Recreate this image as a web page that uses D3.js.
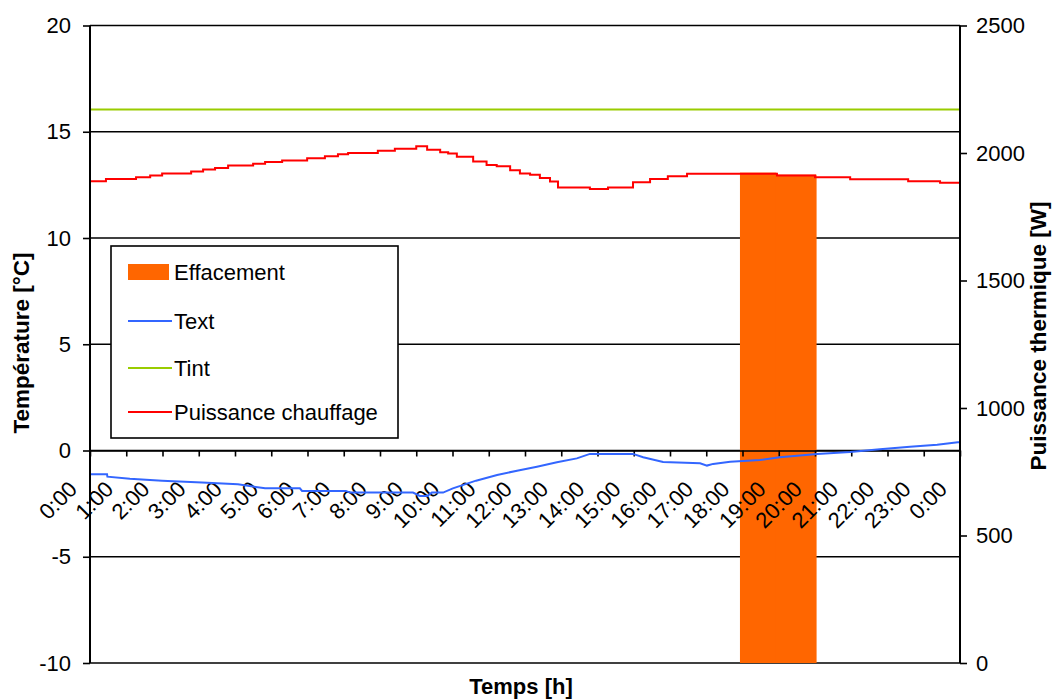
<!DOCTYPE html>
<html>
<head>
<meta charset="utf-8">
<script src="https://cdn.jsdelivr.net/npm/d3@7"></script>
<style>
  html, body { margin: 0; padding: 0; background: #fff; }
  svg { display: block; font-family: "Liberation Sans", Arial, sans-serif; }
</style>
</head>
<body>
<svg id="chart" width="1053" height="700"></svg>
<script>
// ---------- DATA ----------
const hourLabels = ["0:00","1:00","2:00","3:00","4:00","5:00","6:00","7:00","8:00","9:00","10:00","11:00","12:00",
  "13:00","14:00","15:00","16:00","17:00","18:00","19:00","20:00","21:00","22:00","23:00","0:00"];
const leftTicks = [-10, -5, 0, 5, 10, 15, 20];
const rightTicks = [0, 500, 1000, 1500, 2000, 2500];

// Text (outdoor temperature, °C) – hour, value
const textHours  = [0, 0.47, 0.48, 1.10, 1.99, 3.09, 4.08, 4.83, 5.79, 5.85, 7.06, 7.17, 8.91, 9.10, 9.30, 9.43, 9.74,
  10.01, 10.65, 11.23, 11.78, 12.33, 12.88, 13.43, 13.79, 14.98, 15.26, 15.81, 16.83, 17.02, 17.19, 17.66, 18.48,
  19.03, 20.06, 20.97, 21.79, 22.62, 23.37, 23.94, 24];
const textValues = [-1.12, -1.12, -1.23, -1.33, -1.42, -1.51, -1.59, -1.78, -1.78, -1.90, -1.90, -1.98, -1.98, -2.14, -2.14, -1.98, -1.98,
  -1.78, -1.42, -1.15, -0.95, -0.76, -0.55, -0.37, -0.16, -0.16, -0.32, -0.54, -0.60, -0.71, -0.63, -0.53, -0.45,
  -0.32, -0.16, -0.07, 0.06, 0.18, 0.27, 0.39, 0.39];

// Tint (indoor temperature, °C)
const tintHours  = [0, 24];
const tintValues = [16.05, 16.05];

// Puissance chauffage (W) – step starts
const powerHours  = [0, 0.44, 1.27, 1.66, 1.99, 2.79, 3.12, 3.45, 3.81, 4.50, 4.83, 5.30, 5.99, 6.48, 6.84, 7.12,
  7.94, 8.41, 9.0, 9.3, 9.66, 9.88, 10.12, 10.57, 10.94, 11.22, 11.59, 11.86, 12.14, 12.41, 12.69, 12.91,
  13.79, 14.29, 14.98, 15.45, 15.94, 16.47, 18.95, 20.0, 20.97, 22.57, 23.45, 24];
const powerValues = [1889, 1898, 1905, 1912, 1920, 1927, 1935, 1941, 1951, 1958, 1965, 1971, 1979, 1987, 1995, 2000,
  2009, 2017, 2026, 2013, 2003, 1998, 1985, 1967, 1953, 1948, 1932, 1920, 1915, 1902, 1888, 1865,
  1859, 1865, 1885, 1898, 1909, 1919, 1912, 1905, 1897, 1889, 1883, 1883];

// Effacement (W) – column segments: start hour, end hour, value
const effStart  = [17.93, 18.92];
const effEnd    = [18.92, 20.03];
const effValues = [1923, 1915];

// ---------- LAYOUT ----------
const svg = d3.select("#chart");
const L = 90, R = 960, T = 25.5, B = 663;
const x  = d3.scaleLinear().domain([0, 24]).range([L, R]);
const yL = d3.scaleLinear().domain([-10, 20]).range([B, T]);
const yR = d3.scaleLinear().domain([0, 2500]).range([B, T]);
const FS = 22;
const fmt = d => String(d);

// gridlines
svg.append("g").selectAll("line").data(leftTicks).join("line")
  .attr("x1", L).attr("x2", R)
  .attr("y1", d => yL(d)).attr("y2", d => yL(d))
  .attr("stroke", "#000").attr("stroke-width", 1.6);

// effacement columns
svg.append("g").selectAll("rect").data(effValues).join("rect")
  .attr("x", (d, i) => x(effStart[i]))
  .attr("width", (d, i) => x(effEnd[i]) - x(effStart[i]) + 0.5)
  .attr("y", d => yR(d))
  .attr("height", d => yR(0) - yR(d))
  .attr("fill", "#FF6600");

// x axis at 0
const xAxis = d3.axisBottom(x).tickValues(d3.range(0, 25)).tickFormat(i => hourLabels[i])
  .tickSize(6).tickSizeOuter(0);
const gx = svg.append("g").attr("transform", `translate(0,${yL(0)})`).call(xAxis);
gx.select(".domain").attr("stroke", "#000").attr("stroke-width", 1.6);
gx.selectAll(".tick line").attr("stroke", "#000").attr("stroke-width", 1.6);
gx.selectAll(".tick text")
  .attr("x", null).attr("y", null).attr("dy", null)
  .attr("transform", "translate(-12,40) rotate(-45)")
  .attr("text-anchor", "end")
  .attr("font-size", FS).attr("font-family", "Liberation Sans, Arial, sans-serif").attr("fill", "#000");

// lines
const lineGen = (xs, ys, yscale, curve) => d3.line()
  .x((d, i) => x(xs[i])).y(d => yscale(d)).curve(curve);

svg.append("path").datum(tintValues)
  .attr("d", lineGen(tintHours, tintValues, yL, d3.curveLinear))
  .attr("fill", "none").attr("stroke", "#99CC00").attr("stroke-width", 2);

svg.append("path").datum(powerValues)
  .attr("d", lineGen(powerHours, powerValues, yR, d3.curveStepAfter))
  .attr("fill", "none").attr("stroke", "#FF0000").attr("stroke-width", 2);

svg.append("path").datum(textValues)
  .attr("d", lineGen(textHours, textValues, yL, d3.curveLinear))
  .attr("fill", "none").attr("stroke", "#3366FF").attr("stroke-width", 2);

// left axis
const gl = svg.append("g").attr("transform", `translate(${L},0)`)
  .call(d3.axisLeft(yL).tickValues(leftTicks).tickFormat(fmt).tickSize(7).tickSizeOuter(0).tickPadding(12));
gl.select(".domain").attr("stroke", "#000").attr("stroke-width", 2).attr("d", `M0,${T}V${B}`);
gl.selectAll(".tick line").attr("stroke", "#000").attr("stroke-width", 1.6);
gl.selectAll(".tick text").attr("font-size", FS).attr("font-family", "Liberation Sans, Arial, sans-serif").attr("fill", "#000");

// right axis
const gr = svg.append("g").attr("transform", `translate(${R},0)`)
  .call(d3.axisRight(yR).tickValues(rightTicks).tickFormat(fmt).tickSize(7).tickSizeOuter(0).tickPadding(9));
gr.select(".domain").attr("stroke", "#000").attr("stroke-width", 2).attr("d", `M0,${T}V${B}`);
gr.selectAll(".tick line").attr("stroke", "#000").attr("stroke-width", 1.6);
gr.selectAll(".tick text").attr("font-size", FS).attr("font-family", "Liberation Sans, Arial, sans-serif").attr("fill", "#000");

// axis titles
svg.append("text").attr("transform", "translate(29,343) rotate(-90)")
  .attr("text-anchor", "middle").attr("font-weight", "bold").attr("font-size", 22.5)
  .text("Température [°C]");
svg.append("text").attr("transform", "translate(1046,336) rotate(-90)")
  .attr("text-anchor", "middle").attr("font-weight", "bold").attr("font-size", 22.5)
  .text("Puissance thermique [W]");
svg.append("text").attr("x", 521).attr("y", 694)
  .attr("text-anchor", "middle").attr("font-weight", "bold").attr("font-size", 22)
  .text("Temps [h]");

// legend
const legendItems = [
  { label: "Effacement", type: "rect", color: "#FF6600" },
  { label: "Text", type: "line", color: "#3366FF" },
  { label: "Tint", type: "line", color: "#99CC00" },
  { label: "Puissance chauffage", type: "line", color: "#FF0000" }
];
const lg = svg.append("g");
lg.append("rect").attr("x", 111).attr("y", 246).attr("width", 287).attr("height", 192)
  .attr("fill", "#fff").attr("stroke", "#000").attr("stroke-width", 1.6);
const legendY = [272, 321, 368, 412];
legendItems.forEach((it, i) => {
  const cy = legendY[i];
  if (it.type === "rect") {
    lg.append("rect").attr("x", 128).attr("y", cy - 8).attr("width", 41).attr("height", 16).attr("fill", it.color);
  } else {
    lg.append("line").attr("x1", 128).attr("x2", 172).attr("y1", cy).attr("y2", cy)
      .attr("stroke", it.color).attr("stroke-width", 2);
  }
  lg.append("text").attr("x", 174).attr("y", cy).attr("dy", "0.35em")
    .attr("font-size", FS).attr("fill", "#000").text(it.label);
});
</script>
</body>
</html>
